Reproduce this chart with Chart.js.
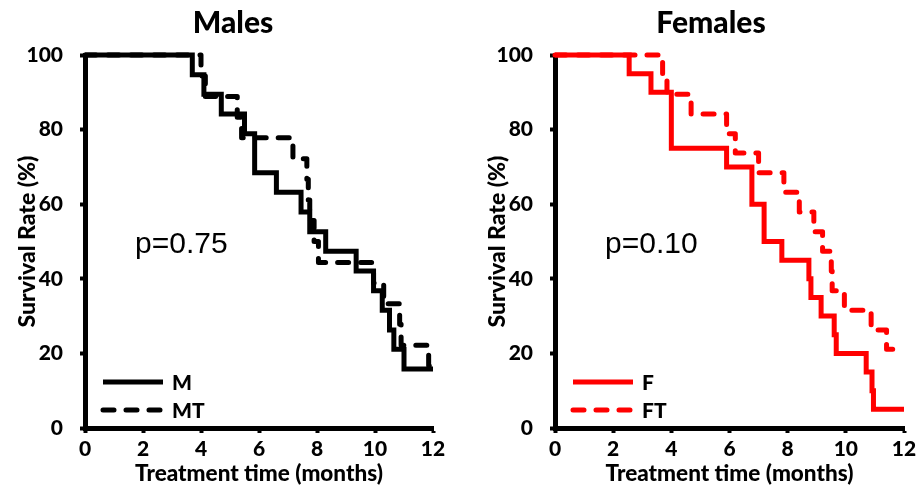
<!DOCTYPE html>
<html><head><meta charset="utf-8">
<script src="https://cdn.jsdelivr.net/npm/chart.js@4.4.0/dist/chart.umd.min.js"></script>
<style>
html,body{margin:0;padding:0;background:#fff;}
#wrap{position:relative;width:921px;height:496px;overflow:hidden;}
canvas{position:absolute;top:0;}
#c1{left:0;} #c2{left:470px;}
</style></head><body>
<div id="wrap"><canvas id="c1" width="470" height="496"></canvas><canvas id="c2" width="451" height="496"></canvas></div>
<script>
// ---- data ----
const xTicks = [0, 2, 4, 6, 8, 10, 12];
const yTicks = [0, 20, 40, 60, 80, 100];

const mTimes = [0, 3.7, 4.1, 4.7, 5.5, 5.85, 6.6, 7.45, 7.75, 8.3, 9.35, 9.95, 10.25, 10.5, 10.65, 11.0, 12];
const mSurv  = [100, 94.7, 89.5, 84.2, 78.9, 68.4, 63.2, 57.9, 52.6, 47.4, 42.1, 36.8, 31.6, 26.3, 21.1, 15.8, 15.8];

const mtTimes = [0, 4.0, 4.15, 5.25, 5.4, 7.17, 7.65, 7.7, 7.75, 7.9, 8.05, 9.95, 10.3, 10.85, 10.9, 11.85, 12];
const mtSurv  = [100, 94.4, 88.9, 83.3, 77.8, 72.2, 66.7, 61.1, 55.6, 50.0, 44.4, 38.9, 33.3, 27.8, 22.2, 16.7, 16.7];

const fTimes = [0, 2.55, 3.3, 4.0, 5.9, 6.77, 7.19, 7.8, 8.73, 8.8, 9.15, 9.6, 9.67, 10.7, 10.9, 10.95, 12];
const fSurv  = [100, 95, 90, 75, 70, 60, 50, 45, 40, 35, 30, 25, 20, 15, 10, 5, 5];

const ftTimes = [0, 3.7, 3.85, 4.68, 5.9, 6.2, 7.0, 7.87, 8.4, 8.9, 9.2, 9.5, 9.53, 9.95, 10.87, 11.4, 12];
const ftSurv  = [100, 94.7, 89.5, 84.2, 78.9, 73.7, 68.4, 63.2, 57.9, 52.6, 47.4, 42.1, 36.8, 31.6, 26.3, 21.1, 21.1];

const panelTitles = ['Males', 'Females'];
const pValues = ['p=0.75', 'p=0.10'];
const seriesLabels = [['M', 'MT'], ['F', 'FT']];
const xTitle = 'Treatment time (months)';
const yTitle = 'Survival Rate (%)';

// ---- helpers ----
const toPts = (ts, vs) => ts.map((t, i) => ({x: t, y: vs[i]}));
const LBL = 'Lato, "Open Sans", sans-serif';
const W = '900';

const annot = {
  id: 'annot',
  afterDraw(chart, args, o) {
    const ctx = chart.ctx, a = chart.chartArea;
    ctx.save();
    ctx.fillStyle = '#000';
    ctx.textBaseline = 'middle';
    ctx.textAlign = 'center';
    ctx.font = W + ' 30px ' + LBL;
    ctx.fillText(o.title, o.titleX, 23);
    ctx.textAlign = 'left';
    ctx.font = '30px "Liberation Sans", Arial, sans-serif';
    ctx.fillText(o.p, a.left + 50, 245);
    chart.data.datasets.forEach((ds, i) => {
      const y = a.bottom - 46 + i * 28;
      ctx.strokeStyle = ds.borderColor;
      ctx.lineWidth = ds.borderWidth;
      ctx.lineCap = ds.borderCapStyle;
      ctx.setLineDash(ds.borderDash || []);
      ctx.beginPath(); ctx.moveTo(a.left + 18, y); ctx.lineTo(a.left + 78, y); ctx.stroke();
      ctx.setLineDash([]);
      ctx.fillStyle = '#000';
      ctx.font = W + ' 21px ' + LBL;
      ctx.fillText(ds.label, a.left + 87, y + 1);
    });
    ctx.restore();
  }
};

function makeChart(id, idx, color, s1, s2, rightPad, titleX) {
  const tickFont = {family: LBL, weight: W, size: 21};
  return new Chart(document.getElementById(id), {
    type: 'line',
    data: {datasets: [
      {label: seriesLabels[idx][0], data: s1, borderColor: color, borderWidth: 5, stepped: 'before',
       pointRadius: 0, borderCapStyle: 'butt', borderJoinStyle: 'miter', fill: false, clip: false},
      {label: seriesLabels[idx][1], data: s2, borderColor: color, borderWidth: 5, stepped: 'before',
       pointRadius: 0, borderDash: [11, 12], borderCapStyle: 'round', borderJoinStyle: 'round', fill: false, clip: false}
    ]},
    options: {
      responsive: false, animation: false, devicePixelRatio: 1,
      layout: {padding: {top: 55, right: rightPad, left: 0, bottom: 0}},
      plugins: {legend: {display: false}, tooltip: {enabled: false},
        annot: {title: panelTitles[idx], p: pValues[idx], titleX: titleX}},
      scales: {
        x: {type: 'linear', min: 0, max: 12,
          afterFit(s) { s.height = 68; },
          afterBuildTicks(s) { s.ticks = xTicks.map(v => ({value: v})); },
          grid: {display: true, drawOnChartArea: false, drawTicks: true, tickLength: 5, tickWidth: 4, tickColor: '#000', color: '#000'},
          border: {display: true, width: 5, color: '#000'},
          ticks: {color: '#000', font: tickFont, padding: 4, maxRotation: 0, autoSkip: false},
          title: {display: true, text: xTitle, color: '#000', font: {family: LBL, weight: W, size: 22.5}, padding: {top: 0, bottom: 9}}
        },
        y: {type: 'linear', min: 0, max: 100,
          afterFit(s) { s.width = 85; },
          afterBuildTicks(s) { s.ticks = yTicks.map(v => ({value: v})); },
          grid: {display: true, drawOnChartArea: false, drawTicks: true, tickLength: 5, tickWidth: 4, tickColor: '#000', color: '#000'},
          border: {display: true, width: 5, color: '#000'},
          ticks: {color: '#000', font: tickFont, padding: 17},
          title: {display: true, text: yTitle, color: '#000', font: {family: LBL, weight: W, size: 23}, padding: {top: 14, bottom: 0}}
        }
      }
    },
    plugins: [annot]
  });
}

makeChart('c1', 0, '#000000', toPts(mTimes, mSurv), toPts(mtTimes, mtSurv), 37, 233);
makeChart('c2', 1, '#ff0000', toPts(fTimes, fSurv), toPts(ftTimes, ftSurv), 17, 241);
</script>
</body></html>
